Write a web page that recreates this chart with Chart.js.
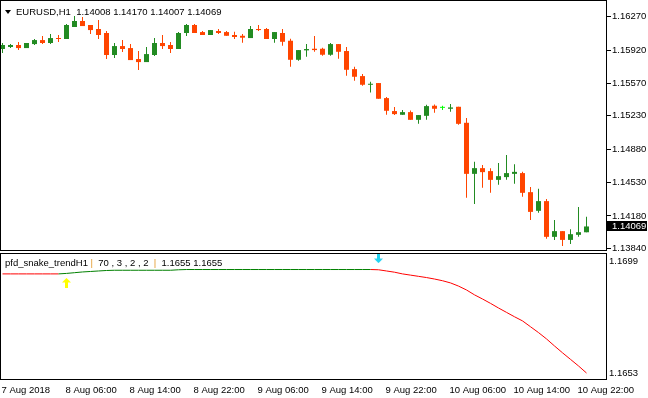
<!DOCTYPE html>
<html><head><meta charset="utf-8">
<script src="https://cdn.jsdelivr.net/npm/chart.js@4.4.0/dist/chart.umd.min.js"></script>
<style>
html,body{margin:0;padding:0;background:#fff;}
#wrap{position:relative;width:648px;height:398px;overflow:hidden;font-family:"Liberation Sans",Arial,sans-serif;font-size:9.5px;color:#000;}
canvas{position:absolute;left:0;}
#cA{top:0;} #cB{top:252px;}
.hdr{position:absolute;white-space:pre;line-height:12px;}
.tri{display:inline-block;width:0;height:0;border-left:3.5px solid transparent;border-right:3.5px solid transparent;border-top:4px solid #000;vertical-align:1px;margin-right:5px;}
.sep{color:#E39B2E;}
</style></head><body>
<div id="wrap">
<canvas id="cA" width="648" height="252"></canvas>
<canvas id="cB" width="648" height="146"></canvas>
<div class="hdr" style="left:5px;top:6px;"><span class="tri"></span><span id="sym">EURUSD,H1</span>  <span id="ohlc"></span></div>
<div class="hdr" style="left:5px;top:257px;">pfd_snake_trendH1 <span class="sep">|</span>  70 , 3 , 2 , 2  <span class="sep">|</span>  1.1655 1.1655</div>
</div>
<script>
// ---- data ----
const timeTickIdx = [0, 8, 16, 24, 32, 40, 48, 56, 64, 72];
const timeTickLabels = ['7 Aug 2018', '8 Aug 06:00', '8 Aug 14:00', '8 Aug 22:00', '9 Aug 06:00', '9 Aug 14:00', '9 Aug 22:00', '10 Aug 06:00', '10 Aug 14:00', '10 Aug 22:00'];
const priceTicks = [1.13840, 1.14180, 1.14530, 1.14880, 1.15230, 1.15570, 1.15920, 1.16270];
const snakeTicks = [1.1653, 1.1699];

const openVals = [1.15931,1.15952,1.15973,1.15941,1.15983,1.16025,1.15994,1.16046,1.16036,1.16162,
1.16225,1.16183,1.16141,1.16099,1.15868,1.15962,1.15941,1.15826,1.15794,1.15868,
1.15994,1.15973,1.15931,1.16099,1.16183,1.16109,1.16078,1.16120,1.16109,1.16078,
1.16070,1.16046,1.16141,1.16141,1.16036,1.16099,1.16018,1.15818,1.15917,1.15934,
1.15934,1.15871,1.15983,1.15910,1.15720,1.15647,1.15556,1.15574,1.15416,1.15280,
1.15241,1.15269,1.15188,1.15230,1.15336,1.15314,1.15304,1.15325,1.15157,1.14621,
1.14681,1.14650,1.14558,1.14587,1.14621,1.14629,1.14429,1.14233,1.14335,1.13960,
1.14020,1.13928,1.13981,1.14008];
const highVals = [1.15994,1.15983,1.16004,1.15994,1.16036,1.16067,1.16088,1.16078,1.16193,1.16277,
1.16267,1.16183,1.16235,1.16120,1.15994,1.16025,1.15983,1.15910,1.15952,1.16046,
1.16078,1.16004,1.16109,1.16193,1.16193,1.16120,1.16130,1.16141,1.16120,1.16112,
1.16088,1.16172,1.16183,1.16151,1.16109,1.16141,1.16039,1.15920,1.15983,1.16067,
1.15944,1.15994,1.15983,1.15952,1.15745,1.15668,1.15587,1.15574,1.15427,1.15322,
1.15290,1.15287,1.15238,1.15346,1.15350,1.15335,1.15353,1.15325,1.15206,1.14747,
1.14713,1.14681,1.14734,1.14818,1.14723,1.14642,1.14482,1.14464,1.14356,1.14138,
1.14020,1.14041,1.14272,1.14170];
const lowVals = [1.15889,1.15941,1.15920,1.15941,1.15973,1.15983,1.15983,1.16004,1.16036,1.16162,
1.16172,1.16088,1.16036,1.15826,1.15836,1.15899,1.15815,1.15710,1.15794,1.15857,
1.15931,1.15889,1.15931,1.16067,1.16099,1.16078,1.16078,1.16088,1.16070,1.16036,
1.15997,1.16046,1.16120,1.16036,1.15997,1.15965,1.15745,1.15808,1.15850,1.15902,
1.15860,1.15860,1.15829,1.15650,1.15598,1.15545,1.15476,1.15409,1.15241,1.15238,
1.15241,1.15188,1.15146,1.15188,1.15262,1.15290,1.15272,1.15136,1.14369,1.14306,
1.14474,1.14422,1.14506,1.14558,1.14516,1.14380,1.14138,1.14212,1.13939,1.13928,
1.13865,1.13886,1.13960,1.14007];
const closeVals = [1.15973,1.15973,1.15941,1.15994,1.16025,1.15994,1.16046,1.16036,1.16183,1.16225,
1.16172,1.16130,1.16078,1.15868,1.15962,1.15931,1.15815,1.15794,1.15878,1.15994,
1.15962,1.15931,1.16099,1.16183,1.16099,1.16078,1.16130,1.16099,1.16070,1.16057,
1.16050,1.16141,1.16130,1.16036,1.16109,1.16007,1.15818,1.15920,1.15931,1.15920,
1.15871,1.15983,1.15902,1.15713,1.15640,1.15556,1.15563,1.15409,1.15283,1.15248,
1.15269,1.15188,1.15238,1.15332,1.15304,1.15314,1.15318,1.15146,1.14621,1.14681,
1.14639,1.14558,1.14597,1.14629,1.14642,1.14422,1.14222,1.14335,1.13960,1.14020,
1.13928,1.13988,1.14009,1.14069];

const snakeUp = [null,null,null,null,null,null,null,1.16937,1.16939,1.16942,
1.16945,1.16947,1.16949,1.16951,1.16952,1.16952,1.16952,1.16952,1.16952,1.16952,
1.16952,1.16952,1.16954,1.16955,1.16955,1.16955,1.16955,1.16955,1.16955,1.16955,
1.16955,1.16955,1.16955,1.16955,1.16955,1.16955,1.16955,1.16955,1.16955,1.16955,
1.16955,1.16955,1.16955,1.16955,1.16955,1.16955,1.16955,null,null,null,
null,null,null,null,null,null,null,null,null,null,
null,null,null,null,null,null,null,null,null,null,
null,null,null,null];
const snakeDown = [1.16937,1.16937,1.16937,1.16937,1.16937,1.16937,1.16937,1.16937,null,null,
null,null,null,null,null,null,null,null,null,null,
null,null,null,null,null,null,null,null,null,null,
null,null,null,null,null,null,null,null,null,null,
null,null,null,null,null,null,1.16955,1.16954,1.16949,1.16944,
1.16937,1.16932,1.16927,1.16922,1.16916,1.16909,1.16900,1.16887,1.16871,1.16851,
1.16834,1.16816,1.16797,1.16779,1.16761,1.16744,1.16720,1.16696,1.16670,1.16641,
1.16613,1.16586,1.16559,1.16530];
const upArrowBars = [8];
const upArrowVals = [1.16900];
const downArrowBars = [47];
const downArrowVals = [1.17002];

// ---- styling ----
const FONT = {family: 'Liberation Sans', size: 9.5};
const BULL = '#228B22', BEAR = '#FF4500', DOJI = '#00FF00';
const X_MIN = -0.1875, X_MAX = 75.4375;
function candleColor(i) {
  if (closeVals[i] > openVals[i]) return BULL;
  if (closeVals[i] < openVals[i]) return BEAR;
  return DOJI;
}
const last = closeVals.length - 1;
document.getElementById('ohlc').textContent =
  [openVals[last], highVals[last], lowVals[last], closeVals[last]].map(v => v.toFixed(5)).join(' ');

const panelBorder = {
  id: 'panelBorder',
  afterDraw(chart) {
    const {ctx, chartArea: a} = chart;
    ctx.save();
    ctx.strokeStyle = '#000';
    ctx.lineWidth = 1;
    ctx.strokeRect(a.left - 0.5, a.top - 0.5, a.right - a.left + 1, a.bottom - a.top + 1);
    ctx.restore();
  }
};
const priceTag = {
  id: 'priceTag',
  afterDraw(chart) {
    const {ctx, chartArea: a} = chart;
    const yPix = Math.round(chart.scales.y.getPixelForValue(closeVals[last]));
    ctx.save();
    ctx.fillStyle = '#000';
    ctx.fillRect(a.right + 1, yPix - 5, 40, 10);
    ctx.fillStyle = '#fff';
    ctx.font = '9.5px "Liberation Sans"';
    ctx.textBaseline = 'middle';
    ctx.fillText(closeVals[last].toFixed(5), a.right + 6, yPix + 0.5);
    ctx.restore();
  }
};

function arrowImage(color, up) {
  const c = document.createElement('canvas');
  c.width = 9; c.height = 10;
  const g = c.getContext('2d');
  g.fillStyle = color;
  g.beginPath();
  if (up) {
    g.moveTo(4.5, 0); g.lineTo(9, 4.5); g.lineTo(6, 4.5); g.lineTo(6, 10);
    g.lineTo(3, 10); g.lineTo(3, 4.5); g.lineTo(0, 4.5);
  } else {
    g.moveTo(4.5, 10); g.lineTo(9, 5.5); g.lineTo(6, 5.5); g.lineTo(6, 0);
    g.lineTo(3, 0); g.lineTo(3, 5.5); g.lineTo(0, 5.5);
  }
  g.closePath();
  g.fill();
  return c;
}

// ---- price chart ----
new Chart(document.getElementById('cA'), {
  type: 'bar',
  data: {
    datasets: [
      {
        label: 'body',
        data: openVals.map((o, i) => ({x: i, y: [o, closeVals[i]]})),
        backgroundColor: ctx => candleColor(ctx.dataIndex),
        borderWidth: 0,
        grouped: false,
        maxBarThickness: 5,
        minBarLength: 1
      },
      {
        label: 'wick',
        data: lowVals.map((l, i) => ({x: i, y: [l, highVals[i]]})),
        backgroundColor: ctx => candleColor(ctx.dataIndex),
        borderWidth: 0,
        grouped: false,
        maxBarThickness: 1,
        minBarLength: 1
      }
    ]
  },
  options: {
    responsive: false, animation: false, devicePixelRatio: 1, events: [],
    layout: {autoPadding: false, padding: {left: 1, top: 1, bottom: 2, right: 0}},
    plugins: {legend: {display: false}, tooltip: {enabled: false}},
    scales: {
      x: {type: 'linear', min: X_MIN, max: X_MAX, offset: false, display: false, grid: {offset: false}},
      y: {
        position: 'right', min: 1.13822, max: 1.16435,
        afterBuildTicks(s) { s.ticks = priceTicks.map(v => ({value: v})); },
        afterFit(s) { s.width = 42; s.paddingTop = 0; s.paddingBottom = 0; },
        ticks: {callback: v => Number(v).toFixed(5), font: FONT, color: '#000', padding: 1, autoSkip: false},
        grid: {display: true, drawOnChartArea: false, drawTicks: true, tickLength: 5, color: '#000', lineWidth: 1},
        border: {display: false}
      }
    }
  },
  plugins: [panelBorder, priceTag]
});

// ---- indicator chart ----
new Chart(document.getElementById('cB'), {
  type: 'line',
  data: {
    datasets: [
      {
        label: 'up arrow',
        data: upArrowBars.map((b, i) => ({x: b, y: upArrowVals[i]})),
        showLine: false,
        pointStyle: arrowImage('#FFFF00', true),
        pointRadius: 5
      },
      {
        label: 'down arrow',
        data: downArrowBars.map((b, i) => ({x: b, y: downArrowVals[i]})),
        showLine: false,
        pointStyle: arrowImage('#22D3F2', false),
        pointRadius: 5
      },
      {
        label: 'snake up',
        data: snakeUp.map((v, i) => ({x: i, y: v})),
        borderColor: '#008000', borderWidth: 1, pointRadius: 0, tension: 0, spanGaps: false
      },
      {
        label: 'snake down',
        data: snakeDown.map((v, i) => ({x: i, y: v})),
        borderColor: '#FF0000', borderWidth: 1, pointRadius: 0, tension: 0, spanGaps: false
      }
    ]
  },
  options: {
    responsive: false, animation: false, devicePixelRatio: 1, events: [],
    layout: {autoPadding: false, padding: {left: 1, top: 2, bottom: 0, right: 0}},
    plugins: {legend: {display: false}, tooltip: {enabled: false}},
    scales: {
      x: {
        type: 'linear', min: X_MIN, max: X_MAX, offset: false,
        afterBuildTicks(s) { s.ticks = timeTickIdx.map(v => ({value: v})); },
        afterFit(s) { s.height = 19; s.paddingLeft = 0; s.paddingRight = 0; },
        ticks: {callback: (v, i) => timeTickLabels[i], align: 'start', maxRotation: 0, minRotation: 0, autoSkip: false,
                padding: 0, font: FONT, color: '#000', labelOffset: -1},
        grid: {display: true, drawOnChartArea: false, drawTicks: true, tickLength: 6, color: 'rgba(0,0,0,0)', offset: false},
        border: {display: false}
      },
      y: {
        position: 'right', min: 1.165054, max: 1.1701875,
        afterBuildTicks(s) { s.ticks = snakeTicks.map(v => ({value: v})); },
        afterFit(s) { s.width = 42; s.paddingTop = 0; s.paddingBottom = 0; },
        ticks: {callback: v => Number(v).toFixed(4), font: FONT, color: '#000', padding: 3, autoSkip: false},
        grid: {display: false, drawTicks: false},
        border: {display: false}
      }
    }
  },
  plugins: [panelBorder]
});
</script>
</body></html>
